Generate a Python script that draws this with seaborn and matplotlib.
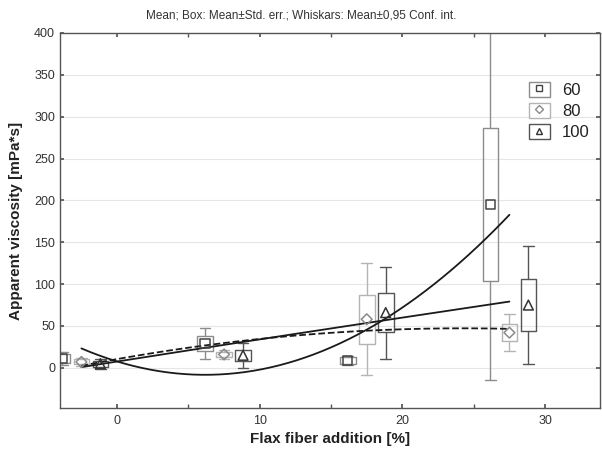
import numpy as np
import pandas as pd
import matplotlib
matplotlib.use("Agg")
import matplotlib.pyplot as plt
import seaborn as sns
from matplotlib.patches import Rectangle
from matplotlib.lines import Line2D
from matplotlib.legend_handler import HandlerTuple

# ---- data ----
series = ["60", "80", "100"]
centers = [-2.5, 7.5, 17.5, 27.5]          # group centre positions on x
offsets = [-1.33, 0.0, 1.33]               # per-series offset
mean60 = [11, 29, 9, 195]
mean80 = [7, 16, 58, 42]
mean100 = [5, 15, 66, 75]
se60 = [5, 8.5, 4, 91]
se80 = [3, 3, 29, 10]
se100 = [3.5, 6.5, 23, 31]
ci60 = [8, 18.5, 5.5, 209]
ci80 = [5, 5, 67, 22]
ci100 = [6, 15, 55, 71]
yticks = [0, 50, 100, 150, 200, 250, 300, 350, 400]
xticks = [0, 10, 20, 30]

means = [mean60, mean80, mean100]
ses = [se60, se80, se100]
cis = [ci60, ci80, ci100]

box_col = ["#8c8c8c", "#b4b4b4", "#555555"]
mark_col = ["#444444", "#8a8a8a", "#333333"]
markers = ["s", "D", "^"]
msizes = [45, 30, 50]
line_styles = ["-", "--", "-"]

sns.set_theme(style="white")
plt.rcParams['font.family'] = ['Liberation Sans', 'DejaVu Sans']

fig = plt.figure(figsize=(6.02, 4.49), dpi=100)
ax = fig.add_axes([60/602, 1-408/449, 540/602, 375/449])

rows = []
for i, s in enumerate(series):
    pos = [c + offsets[i] for c in centers]
    stats = []
    for m, se, ci in zip(means[i], ses[i], cis[i]):
        stats.append(dict(med=m, q1=m - se, q3=m + se, whislo=m - ci, whishi=m + ci, fliers=[]))
    ax.bxp(stats, positions=pos, widths=1.1, showfliers=False, manage_ticks=False,
           boxprops=dict(color=box_col[i], linewidth=1.0),
           whiskerprops=dict(color=box_col[i], linewidth=1.0),
           capprops=dict(color=box_col[i], linewidth=1.0),
           medianprops=dict(linewidth=0), capwidths=0.75)
    for p, m in zip(pos, means[i]):
        rows.append(dict(x=p, y=m, s=s))

df = pd.DataFrame(rows)
for i, s in enumerate(series):
    sub = df[df.s == s]
    sns.scatterplot(x=sub.x, y=sub.y, marker=markers[i], s=msizes[i], facecolor="none",
                    edgecolor=mark_col[i], linewidth=1.1, ax=ax, zorder=5)

# quadratic fits of the means across group centres
xs = np.linspace(centers[0], centers[-1], 200)
for i, s in enumerate(series):
    coef = np.polyfit(centers, means[i], 2)
    fit = pd.DataFrame(dict(x=xs, y=np.polyval(coef, xs)))
    sns.lineplot(data=fit, x="x", y="y", color="#1a1a1a", linewidth=1.3,
                 linestyle=line_styles[i], ax=ax, zorder=4)

ax.set_xlim(-4, 33.85)
ax.set_ylim(-48, 400)
ax.set_xticks(xticks)
ax.set_xticks([5, 15, 25], minor=True)
ax.set_yticks(yticks)
ax.yaxis.grid(True, color="#e6e6e6", linewidth=0.8)
ax.xaxis.grid(False)
for sp in ax.spines.values():
    sp.set_color("#555555")
    sp.set_linewidth(1.0)
ax.tick_params(axis="both", which="both", direction="in", length=3, color="#555555",
               labelsize=9, labelcolor="#333333", top=True, right=True, bottom=True, left=True)
ax.tick_params(axis="x", pad=5)
ax.set_xlabel("Flax fiber addition [%]", fontsize=11, fontweight="bold", color="#222222", labelpad=4)
ax.set_ylabel("Apparent viscosity [mPa*s]", fontsize=11, fontweight="bold", color="#222222", labelpad=8)
fig.text(0.5, 0.965, "Mean; Box: Mean±Std. err.; Whiskars: Mean±0,95 Conf. int.",
         ha="center", va="center", fontsize=8.5, color="#333333")

handles = []
for i in range(3):
    r = Rectangle((0, 0), 1, 1, facecolor="white", edgecolor=box_col[i], linewidth=1.0)
    mk = Line2D([], [], marker=markers[i], linestyle="none", markerfacecolor="none",
                markeredgecolor=mark_col[i], markersize=5 if i != 1 else 4)
    handles.append((r, mk))
leg = ax.legend(handles, series, handler_map={tuple: HandlerTuple(ndivide=1, pad=0)},
                loc="upper left", bbox_to_anchor=(0.84, 0.91), frameon=False,
                fontsize=12, handlelength=1.3, handleheight=1.0, labelspacing=0.3,
                handletextpad=0.7)
for t in leg.get_texts():
    t.set_color("#222222")

fig.savefig("out.png", dpi=100)
